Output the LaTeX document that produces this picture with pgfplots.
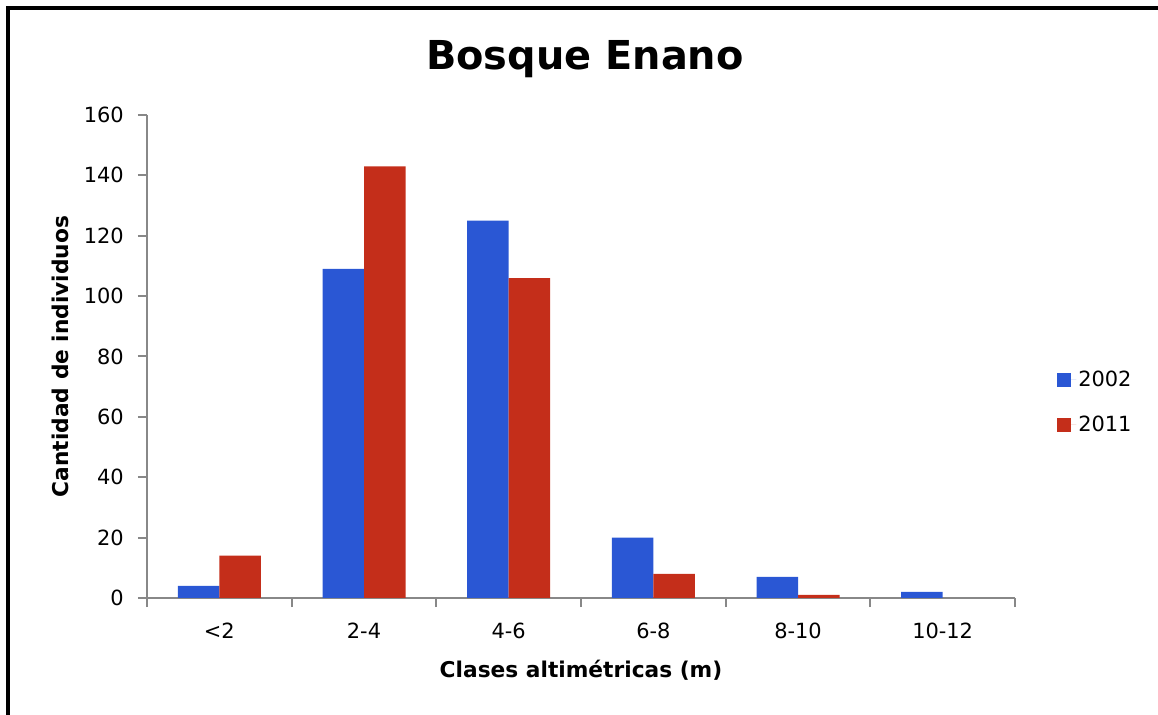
\documentclass[border=0pt]{standalone}
\usepackage{pgfplots}
\pgfplotsset{compat=1.18}
\usepackage{fontspec}
\setmainfont{DejaVu Sans}
\definecolor{barblue}{RGB}{42,87,212}
\definecolor{barred}{RGB}{196,46,26}
\definecolor{axgray}{RGB}{136,136,136}

\pgfplotstableread{
cls  y2002 y2011
0    4     14
1    109   143
2    125   106
3    20    8
4    7     1
5    2     0
}\alturas

\begin{document}
\begin{tikzpicture}[x=1bp,y=1bp]
\useasboundingbox (0bp,0bp) rectangle (1158bp,715bp);
\draw[line width=4bp] (8bp,0bp) -- (8bp,707bp) -- (1158bp,707bp);
\node[anchor=base,font=\fontsize{40}{48}\selectfont\bfseries] at (585bp,645bp) {Bosque Enano};
\begin{axis}[
  at={(147bp,117bp)}, anchor=south west,
  scale only axis, width=868bp, height=483bp,
  xmin=-0.5, xmax=5.5, ymin=0, ymax=160,
  ytick={0,20,...,160},
  xtick={0,1,2,3,4,5},
  xticklabels={<2,2-4,4-6,6-8,8-10,10-12},
  xtick style={draw=none},
  extra x ticks={-0.5,0.5,1.5,2.5,3.5,4.5,5.5},
  extra x tick labels={},
  extra x tick style={xtick style={draw=axgray,line width=2bp}},
  ytick style={draw=axgray,line width=2bp},
  tick align=outside, major tick length=9bp,
  axis x line*=bottom, axis y line*=left,
  axis line style={axgray,line width=2bp,-},
  /pgf/number format/assume math mode=true,
  ticklabel style={font=\fontsize{21}{25}\selectfont},
  yticklabel style={inner sep=0pt,xshift=-14bp},
  xticklabel style={inner sep=0pt,yshift=-16bp},
  ylabel={\bfseries Cantidad de individuos},
  xlabel={\bfseries Clases altimétricas (m)},
  label style={font=\fontsize{21.8}{26}\selectfont},
  ylabel style={at={(axis description cs:0,0.5)},anchor=center,rotate=0,yshift=87bp},
  xlabel style={at={(axis description cs:0.5,0)},anchor=center,yshift=-72bp},
  ybar=0pt, bar width=41.5bp,
  legend style={at={(1.045,0.405)},anchor=west,draw=none,fill=none,
    font=\fontsize{21}{25}\selectfont,row sep=24bp},
  legend image code/.code={\fill[#1] (0bp,-7bp) rectangle (14bp,7bp);
    \path (0bp,0bp) -- (19bp,0bp);},
  legend cell align=left,
]
\addplot[fill=barblue,draw=none] table[x=cls,y=y2002] {\alturas};
\addplot[fill=barred,draw=none] table[x=cls,y=y2011] {\alturas};
\legend{2002,2011}
\end{axis}
\end{tikzpicture}
\end{document}
